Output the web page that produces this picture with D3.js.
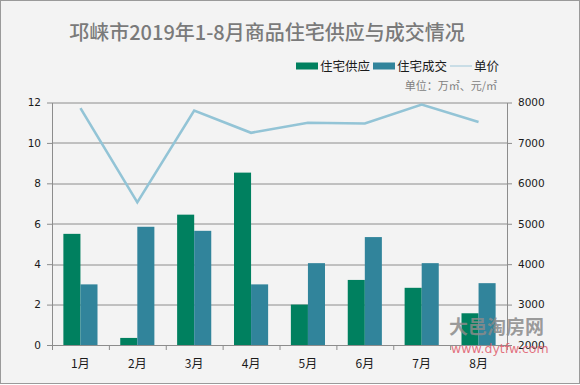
<!DOCTYPE html>
<html>
<head>
<meta charset="utf-8">
<script src="https://cdn.jsdelivr.net/npm/d3@7"></script>
<style>
  body { margin: 0; background: #fff; }
  text { font-family: "Noto Sans CJK SC", "DejaVu Sans", sans-serif; }
</style>
</head>
<body>
<div id="chart"></div>
<script>
// data
let months = ['1月', '2月', '3月', '4月', '5月', '6月', '7月', '8月']
let supply = [5.5, 0.35, 6.45, 8.53, 2.0, 3.22, 2.83, 1.57]
let deals = [3.0, 5.85, 5.65, 3.0, 4.05, 5.34, 4.05, 3.06]
let price = [7860, 5530, 7800, 7250, 7500, 7480, 7950, 7520]
let leftTicks = [0, 2, 4, 6, 8, 10, 12]
let rightTicks = [2000, 3000, 4000, 5000, 6000, 7000, 8000]

let W = 580, H = 385
let margin = { top: 102.5, left: 52, right: 73, bottom: 40 }
let width = W - margin.left - margin.right
let height = H - margin.top - margin.bottom

let svg = d3.select('#chart').append('svg')
  .attr('width', W).attr('height', H)

svg.append('rect')
  .attr('x', 0.5).attr('y', 0.5).attr('width', W - 1).attr('height', H - 2)
  .attr('fill', '#f3f3f3').attr('stroke', '#9a9a9a')

let g = svg.append('g')
  .attr('transform', 'translate(' + margin.left + ',' + margin.top + ')')

let x = d3.scaleBand().domain(months).range([0, width]).paddingInner(0.4).paddingOuter(0.2)
let xBand = d3.scaleBand().domain(months).range([0, width])
let sub = d3.scaleBand().domain(['supply', 'deals']).range([0, x.bandwidth()])
let y = d3.scaleLinear().domain([0, 12]).range([height, 0])
let y2 = d3.scaleLinear().domain([2000, 8000]).range([height, 0])

// gridlines
g.append('g').selectAll('line').data(leftTicks.slice(1)).enter().append('line')
  .attr('x1', 0).attr('x2', width)
  .attr('y1', d => Math.round(y(d)) + 0.5).attr('y2', d => Math.round(y(d)) + 0.5)
  .attr('stroke', '#8c8c8c')

// bars
let groups = g.append('g').selectAll('g').data(months).enter().append('g')
  .attr('transform', d => 'translate(' + x(d) + ',0)')
groups.append('rect')
  .attr('x', sub('supply')).attr('width', sub.bandwidth())
  .attr('y', (d, i) => y(supply[i])).attr('height', (d, i) => height - y(supply[i]))
  .attr('fill', '#00805f')
groups.append('rect')
  .attr('x', sub('deals')).attr('width', sub.bandwidth())
  .attr('y', (d, i) => y(deals[i])).attr('height', (d, i) => height - y(deals[i]))
  .attr('fill', '#31849b')

// price line
let line = d3.line()
  .x((d, i) => xBand(months[i]) + xBand.bandwidth() / 2)
  .y(d => y2(d))
g.append('path').datum(price)
  .attr('d', line).attr('fill', 'none')
  .attr('stroke', '#93c4d6').attr('stroke-width', 2.6)

// axes
let axisStyle = sel => {
  sel.select('.domain').attr('stroke', '#8c8c8c')
  sel.selectAll('.tick line').attr('stroke', '#8c8c8c')
  sel.selectAll('.tick text').attr('fill', '#1a1a1a')
    .style('font-family', '"DejaVu Sans", sans-serif').style('font-size', '10.5px')
}

g.append('g')
  .call(d3.axisLeft(y).tickValues(leftTicks).tickSize(5).tickSizeOuter(0).tickPadding(6))
  .call(axisStyle)

g.append('g')
  .attr('transform', 'translate(' + width + ',0)')
  .call(d3.axisRight(y2).tickValues(rightTicks).tickFormat(d3.format('d')).tickSize(5).tickSizeOuter(0).tickPadding(6))
  .call(axisStyle)

let xAxis = g.append('g')
  .attr('transform', 'translate(0,' + height + ')')
  .call(d3.axisBottom(xBand).tickSize(0).tickPadding(14))
  .call(axisStyle)
xAxis.selectAll('.tick text')
  .style('font-family', '"Noto Sans CJK SC", sans-serif').style('font-size', '12px')
xAxis.append('g').selectAll('line').data(months.concat(['end'])).enter().append('line')
  .attr('x1', (d, i) => i * xBand.step() + 0.5).attr('x2', (d, i) => i * xBand.step() + 0.5)
  .attr('y1', 0).attr('y2', 5).attr('stroke', '#8c8c8c')

// title
svg.append('text')
  .attr('x', 267).attr('y', 40).attr('text-anchor', 'middle')
  .attr('fill', '#7a7a7a').style('font-size', '20px').style('font-weight', 500)
  .text('邛崃市2019年1-8月商品住宅供应与成交情况')

// legend
let legend = svg.append('g').attr('transform', 'translate(296,66)')
let legendItems = [
  { name: '住宅供应', color: '#00805f', type: 'rect', dx: 0 },
  { name: '住宅成交', color: '#31849b', type: 'rect', dx: 77 },
  { name: '单价', color: '#c9dde6', type: 'line', dx: 154 }
]
legendItems.forEach(d => {
  if (d.type === 'rect') {
    legend.append('rect').attr('x', d.dx).attr('y', -3.5).attr('width', 22).attr('height', 7).attr('fill', d.color)
  } else {
    legend.append('line').attr('x1', d.dx).attr('x2', d.dx + 22).attr('y1', 0).attr('y2', 0)
      .attr('stroke', d.color).attr('stroke-width', 2)
  }
  legend.append('text').attr('x', d.dx + 24).attr('y', 4.5)
    .attr('fill', '#1a1a1a').style('font-size', '12.5px').text(d.name)
})

svg.append('text')
  .attr('x', 497).attr('y', 90).attr('text-anchor', 'end')
  .attr('fill', '#7f7f7f').style('font-size', '11px')
  .text('单位：万㎡、元/㎡')

// watermark
svg.append('text')
  .attr('x', 449).attr('y', 334)
  .attr('fill', '#8a8a8a').attr('fill-opacity', 0.85).style('font-size', '19px').style('font-weight', 'bold')
  .text('大邑淘房网')
svg.append('text')
  .attr('x', 451).attr('y', 353)
  .attr('fill', '#e05a6a').attr('fill-opacity', 0.85).style('font-size', '12.5px')
  .style('font-family', '"DejaVu Sans", sans-serif')
  .text('www.dytfw.com')
</script>
</body>
</html>
